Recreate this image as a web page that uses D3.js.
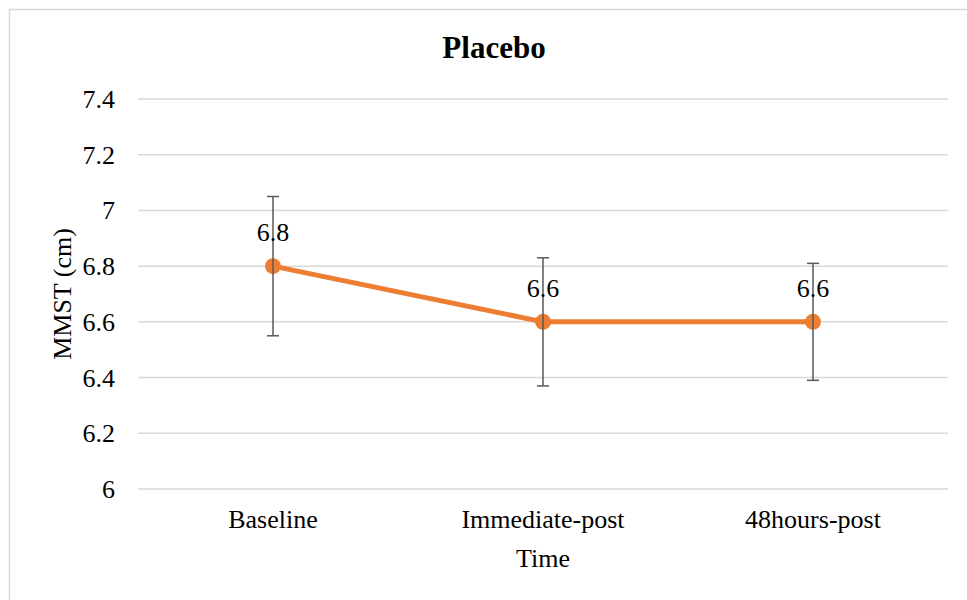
<!DOCTYPE html>
<html>
<head>
<meta charset="utf-8">
<script src="https://cdn.jsdelivr.net/npm/d3@7"></script>
<style>
  html, body { margin: 0; padding: 0; background: #fff; }
  svg { display: block; }
  text { font-family: "Liberation Serif", "Times New Roman", serif; fill: #000; }
</style>
</head>
<body>
<svg id="chart" width="967" height="600"></svg>
<script>
const categories = ["Baseline", "Immediate-post", "48hours-post"];
const means = [6.8, 6.6, 6.6];
const errUpper = [7.05, 6.83, 6.81];
const errLower = [6.55, 6.37, 6.39];
const yTicks = [6, 6.2, 6.4, 6.6, 6.8, 7, 7.2, 7.4];
const title = "Placebo";
const xTitle = "Time";
const yTitle = "MMST (cm)";

const svg = d3.select("#chart");
const W = 967, H = 600;
const plot = { left: 138, right: 948, top: 99, bottom: 489 };

// outer border
svg.append("rect")
  .attr("x", 9.5).attr("y", 9.5)
  .attr("width", W + 20).attr("height", H + 20)
  .attr("fill", "none").attr("stroke", "#d9d9d9").attr("stroke-width", 1.5);

const x = d3.scaleBand().domain(categories).range([plot.left, plot.right]);
const y = d3.scaleLinear().domain([6, 7.4]).range([plot.bottom, plot.top]);
const cx = d => x(d) + x.bandwidth() / 2;

// gridlines
svg.append("g").selectAll("line").data(yTicks).join("line")
  .attr("x1", plot.left).attr("x2", plot.right)
  .attr("y1", d => y(d)).attr("y2", d => y(d))
  .attr("stroke", "#d9d9d9").attr("stroke-width", 1.5);

// y tick labels
svg.append("g").selectAll("text").data(yTicks).join("text")
  .attr("x", 115).attr("y", d => y(d) + 9)
  .attr("text-anchor", "end").attr("font-size", 26)
  .attr("font-family", "Liberation Serif")
  .text(d => d3.format("~g")(d));

// x category labels
svg.append("g").selectAll("text").data(categories).join("text")
  .attr("x", d => cx(d)).attr("y", 528)
  .attr("text-anchor", "middle").attr("font-size", 26)
  .text(d => d);

// axis titles
svg.append("text").attr("x", 543).attr("y", 567)
  .attr("text-anchor", "middle").attr("font-size", 26).text(xTitle);
svg.append("text")
  .attr("transform", "translate(71,294) rotate(-90)")
  .attr("text-anchor", "middle").attr("font-size", 26).text(yTitle);

// chart title
svg.append("text").attr("x", 494).attr("y", 58)
  .attr("text-anchor", "middle").attr("font-size", 31).attr("font-weight", "bold")
  .attr("font-family", "Liberation Serif")
  .text(title);

const data = categories.map((c, i) => ({ c, v: means[i], hi: errUpper[i], lo: errLower[i] }));

// line
svg.append("path").datum(data)
  .attr("d", d3.line().x(d => cx(d.c)).y(d => y(d.v)))
  .attr("fill", "none").attr("stroke", "#ED7D31").attr("stroke-width", 5)
  .attr("stroke-linejoin", "round");

// markers
svg.append("g").selectAll("circle").data(data).join("circle")
  .attr("cx", d => cx(d.c)).attr("cy", d => y(d.v)).attr("r", 8)
  .attr("fill", "#ED7D31");

// error bars
const eb = svg.append("g").attr("stroke", "#595959").attr("stroke-width", 1.5);
eb.selectAll("line.v").data(data).join("line").attr("class", "v")
  .attr("x1", d => cx(d.c)).attr("x2", d => cx(d.c))
  .attr("y1", d => y(d.hi)).attr("y2", d => y(d.lo));
eb.selectAll("line.t").data(data).join("line").attr("class", "t")
  .attr("x1", d => cx(d.c) - 6).attr("x2", d => cx(d.c) + 6)
  .attr("y1", d => y(d.hi)).attr("y2", d => y(d.hi));
eb.selectAll("line.b").data(data).join("line").attr("class", "b")
  .attr("x1", d => cx(d.c) - 6).attr("x2", d => cx(d.c) + 6)
  .attr("y1", d => y(d.lo)).attr("y2", d => y(d.lo));

// data labels
svg.append("g").selectAll("text").data(data).join("text")
  .attr("x", d => cx(d.c)).attr("y", d => y(d.v) - 25)
  .attr("text-anchor", "middle").attr("font-size", 26)
  .attr("font-family", "Liberation Serif")
  .text(d => d3.format("~g")(d.v));
</script>
</body>
</html>
